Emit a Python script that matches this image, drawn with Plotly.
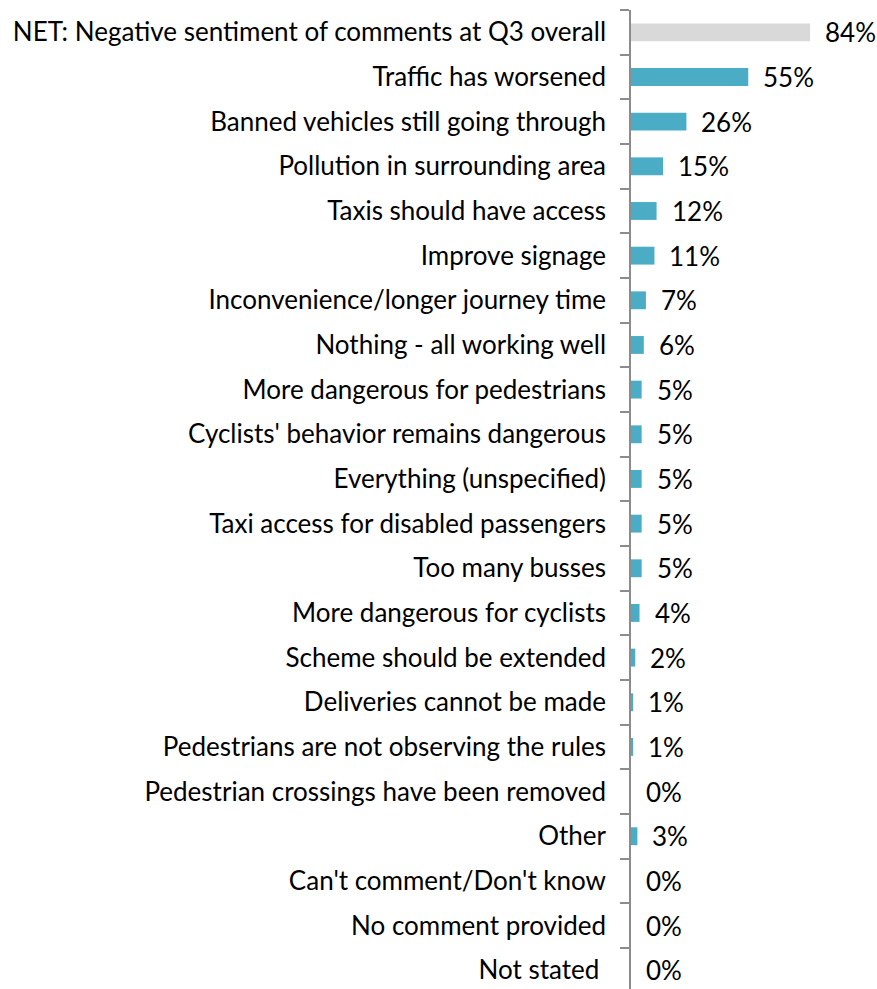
import plotly.graph_objects as go

categories = [
    "NET: Negative sentiment of comments at Q3 overall",
    "Traffic has worsened",
    "Banned vehicles still going through",
    "Pollution in surrounding area",
    "Taxis should have access",
    "Improve signage",
    "Inconvenience/longer journey time",
    "Nothing - all working well",
    "More dangerous for pedestrians",
    "Cyclists' behavior remains dangerous",
    "Everything (unspecified)",
    "Taxi access for disabled passengers",
    "Too many busses",
    "More dangerous for cyclists",
    "Scheme should be extended",
    "Deliveries cannot be made",
    "Pedestrians are not observing the rules",
    "Pedestrian crossings have been removed",
    "Other",
    "Can't comment/Don't know",
    "No comment provided",
    "Not stated\u00a0",
]
values = [84, 55, 26, 15, 12, 11, 7, 6, 5, 5, 5, 5, 5, 4, 2, 1, 1, 0, 3, 0, 0, 0]

NET_COLOR = "#D9D9D9"
BAR_COLOR = "#4BACC6"
FONT = "Lato"
FONT_SIZE = 26

colors = [NET_COLOR] + [BAR_COLOR] * (len(values) - 1)

fig = go.Figure(
    go.Bar(
        x=values,
        y=categories,
        orientation="h",
        marker=dict(color=colors, line=dict(width=0)),
        width=0.4,
        hoverinfo="skip",
    )
)

for cat, v in zip(categories, values):
    fig.add_annotation(
        x=v, y=cat, text=f"{v}%", showarrow=False,
        xanchor="left", yanchor="middle", xshift=13,
        font=dict(family=FONT, size=FONT_SIZE, color="#000000"),
    )

fig.update_layout(
    width=877, height=989,
    margin=dict(l=631, r=0, t=10, b=0),
    paper_bgcolor="white", plot_bgcolor="white",
    showlegend=False,
    font=dict(family=FONT, size=FONT_SIZE, color="#000000"),
)
fig.update_xaxes(
    range=[0, 115.4], visible=False, showgrid=False, zeroline=False,
)
fig.update_yaxes(
    type="category", categoryorder="array", categoryarray=categories,
    range=[21.42, -0.5], showgrid=False, zeroline=False,
    showline=True, linecolor="#8C8C8C", linewidth=1.5,
    ticks="outside", tickson="boundaries", ticklen=9,
    tickcolor="#8C8C8C", tickwidth=1.5,
    ticklabelstandoff=18, automargin=False,
    tickfont=dict(family=FONT, size=FONT_SIZE, color="#000000"),
)

fig.write_html("out.html")
